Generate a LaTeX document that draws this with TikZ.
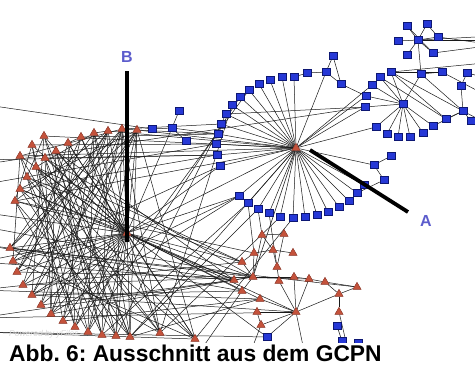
\documentclass[tikz,border=0pt]{standalone}
\usepackage{fontspec}
\setmainfont{Liberation Sans}
\usepackage{xcolor}
\definecolor{sqfill}{rgb}{0.15,0.22,0.84}
\definecolor{sqborder}{rgb}{0.05,0.09,0.45}
\definecolor{trifill}{rgb}{0.77,0.32,0.23}
\definecolor{triborder}{rgb}{0.52,0.18,0.12}
\definecolor{labelblue}{rgb}{0.36,0.36,0.80}
\usepackage{tikz}
\usetikzlibrary{positioning, shapes.geometric, backgrounds}
\frenchspacing

\begin{document}
\begin{tikzpicture}[x=1pt, y=-1pt,
  sq/.style={draw=sqborder, fill=sqfill, line width=0.4pt,
             minimum width=8pt, minimum height=7pt, inner sep=0pt},
  tri/.style={draw=triborder, fill=trifill, line width=0.4pt,
              regular polygon, regular polygon sides=3,
              minimum size=9.5pt, inner sep=0pt},
  link/.style={draw=black!90, line width=0.5pt},
  pointer/.style={draw=black, line width=3.8pt},
  letter/.style={text=labelblue, font=\bfseries\fontsize{16}{16}\selectfont, inner sep=1pt},
]
\useasboundingbox (0,0) rectangle (475,367);

\begin{scope}
\clip (0,0) rectangle (475,342);
% Hub A with its ring
\node[tri] (hA) at (296,148) {};
\node[sq] (a1) at (294,77) {};
\node[sq] (a2) at (282,77) {};
\node[sq] (a3) at (270,80) {};
\node[sq] (a4) at (259,84) {};
\node[sq] (a5) at (249,90) {};
\node[sq] (a6) at (240,97) {};
\node[sq] (a7) at (232,105) {};
\node[sq] (a8) at (226,114) {};
\node[sq] (a9) at (221,124) {};
\node[sq] (a10) at (218,134) {};
\node[sq] (a11) at (216,144) {};
\node[sq] (a12) at (217,155) {};
\node[sq] (a13) at (220,166) {};
\node[sq] (a14) at (239,196) {};
\node[sq] (a15) at (248,203) {};
\node[sq] (a16) at (258,209) {};
\node[sq] (a17) at (269,213) {};
\node[sq] (a18) at (280,217) {};
\node[sq] (a19) at (293,218) {};
\node[sq] (a20) at (305,217) {};
\node[sq] (a21) at (317,215) {};
\node[sq] (a22) at (328,212) {};
\node[sq] (a23) at (339,207) {};
\node[sq] (a24) at (349,201) {};
\node[sq] (a25) at (357,193) {};
\node[sq] (a26) at (364,185) {};

% Small clusters near hub A
\node[sq] (c1) at (307,73) {};
\node[sq] (c2) at (326,72) {};
\node[sq] (c3) at (333,56) {};
\node[sq] (c4) at (341,84) {};
\node[sq] (k1) at (391,156) {};
\node[sq] (k2) at (374,165) {};
\node[sq] (k3) at (384,180) {};

% Squares near B
\node[sq] (s1) at (152,129) {};
\node[sq] (s2) at (172,128) {};
\node[sq] (s3) at (179,111) {};
\node[sq] (s4) at (186,141) {};

% Right hub
\node[sq] (r0) at (403,104) {};
\node[sq] (r1) at (391,72) {};
\node[sq] (r2) at (380,77) {};
\node[sq] (r3) at (372,85) {};
\node[sq] (r4) at (366,96) {};
\node[sq] (r5) at (365,107) {};
\node[sq] (r6) at (376,127) {};
\node[sq] (r7) at (387,134) {};
\node[sq] (r8) at (398,137) {};
\node[sq] (r9) at (410,137) {};
\node[sq] (r10) at (423,133) {};
\node[sq] (r11) at (433,126) {};
\node[sq] (r12) at (446,119) {};
\node[sq] (r13) at (463,111) {};
\node[sq] (r14) at (471,121) {};
\node[sq] (r15) at (421,74) {};
\node[sq] (r16) at (442,72) {};
\node[sq] (r17) at (467,73) {};
\node[sq] (r18) at (461,86) {};

% Upper right star
\node[sq] (u0) at (418,40) {};
\node[sq] (u1) at (407,26) {};
\node[sq] (u2) at (427,24) {};
\node[sq] (u3) at (438,37) {};
\node[sq] (u4) at (398,41) {};
\node[sq] (u5) at (407,55) {};
\node[sq] (u6) at (433,53) {};

% Hub B with its ring
\node[tri] (hB) at (127,233) {};
\node[tri] (l1) at (137,130) {};
\node[tri] (l2) at (122,129) {};
\node[tri] (l3) at (108,131) {};
\node[tri] (l4) at (94,133) {};
\node[tri] (l5) at (81,137) {};
\node[tri] (l6) at (68,143) {};
\node[tri] (l7) at (56,151) {};
\node[tri] (l8) at (44,136) {};
\node[tri] (l9) at (32,145) {};
\node[tri] (l10) at (45,158) {};
\node[tri] (l11) at (36,167) {};
\node[tri] (l12) at (20,156) {};
\node[tri] (l13) at (27,177) {};
\node[tri] (l14) at (20,189) {};
\node[tri] (l15) at (15,201) {};
\node[tri] (l16) at (10,248) {};
\node[tri] (l17) at (13,261) {};
\node[tri] (l18) at (17,272) {};
\node[tri] (l19) at (23,285) {};
\node[tri] (l20) at (32,295) {};
\node[tri] (l21) at (41,305) {};
\node[tri] (l22) at (51,314) {};
\node[tri] (l23) at (63,321) {};
\node[tri] (l24) at (75,327) {};
\node[tri] (l25) at (88,332) {};
\node[tri] (l26) at (102,335) {};
\node[tri] (l27) at (116,336) {};
\node[tri] (l28) at (130,337) {};
\node[tri] (l29) at (160,333) {};
\node[tri] (l30) at (195,339) {};

% Lower triangle group
\node[tri] (t1) at (262,235) {};
\node[tri] (t2) at (284,234) {};
\node[tri] (t3) at (273,250) {};
\node[tri] (t4) at (254,253) {};
\node[tri] (t5) at (293,253) {};
\node[tri] (t6) at (242,262) {};
\node[tri] (t7) at (277,267) {};
\node[tri] (t8) at (253,277) {};
\node[tri] (t9) at (234,280) {};
\node[tri] (t10) at (279,281) {};
\node[tri] (t11) at (294,277) {};
\node[tri] (t12) at (309,279) {};
\node[tri] (t13) at (325,282) {};
\node[tri] (t14) at (357,287) {};
\node[tri] (t15) at (242,291) {};
\node[tri] (t16) at (260,299) {};
\node[tri] (t17) at (339,294) {};
\node[tri] (t18) at (257,312) {};
\node[tri] (t19) at (296,312) {};
\node[tri] (t20) at (339,312) {};
\node[tri] (t21) at (261,325) {};
\node[sq] (q1) at (337,326) {};
\node[sq] (q2) at (267,337) {};
\node[sq] (q3) at (342,341) {};
\node[sq] (q4) at (358,343) {};
\end{scope}

% Ends of links leaving the cut
\coordinate (w1) at (-20,104);
\coordinate (w2) at (-20,165);
\coordinate (w3) at (-20,160);
\coordinate (w4) at (-20,185);
\coordinate (w5) at (-20,212);
\coordinate (w6) at (-20,226);
\coordinate (w7) at (-20,244);
\coordinate (w8) at (-20,262);
\coordinate (w9) at (-20,290);
\coordinate (w10) at (-20,318);
\coordinate (w11) at (-20,332);
\coordinate (e1) at (495,36);
\coordinate (e2) at (495,40);
\coordinate (e3) at (495,45);
\coordinate (e4) at (495,62);
\coordinate (e5) at (495,100);
\coordinate (e6) at (495,80);
\coordinate (e7) at (495,118);
\coordinate (e8) at (495,128);
\coordinate (d1) at (240,380);
\coordinate (d2) at (310,380);
\coordinate (d3) at (355,380);
\coordinate (d4) at (180,380);

\begin{scope}[on background layer]
\clip (0,0) rectangle (475,342);
% fans of the two hubs
\foreach \i in {1,...,26} \draw[link] (hA) -- (a\i);
\foreach \i in {1,...,30} \draw[link] (hB) -- (l\i);
\foreach \i in {1,...,11} \draw[link] (r0) -- (r\i);
\foreach \i in {1,...,6} \draw[link] (u0) -- (u\i);
% left mesh
\foreach \p/\q in {l1/l16, l1/l19, l1/l22, l1/l25, l1/l28, l2/l18, l2/l21,
  l2/l24, l2/l27, l3/l17, l3/l20, l3/l26, l4/l23, l4/l28, l5/l21, l5/l29,
  l6/l24, l6/l30, l7/l26, l8/l28, l10/l27, l13/l29, l14/l27, l15/l25,
  l12/l28, l9/l24, l11/l30, l1/l14, l2/l12, l3/l15, l4/l16, l5/l18,
  l6/l19, l7/l22, l8/l20, l9/l23, l10/l25, l13/l26, l16/l29, l17/l30,
  l1/l30, l2/l29, l4/l11, l8/l13, l12/l17, l9/l15, l1/l2, l3/l4, l5/l6,
  l1/l20, l2/l23, l3/l22, l4/l25, l6/l27, l7/l28, l8/l26, l11/l29,
  l14/l30, l15/l28, l10/l22, l12/l24, l2/l16, l3/l18}
  \draw[link] (\p) -- (\q);
% long links
\foreach \p/\q in {hA/l1, hA/l3, hA/l8, hA/l12, hA/l15, hA/hB, hA/t8,
  hA/c2, hA/k2, hA/r3, hA/r5, hA/l28, a9/l2, a10/l5, a11/l9, a12/l14,
  a13/l17, a6/l25, a8/l27, a14/l22, a15/l26, a16/l28, a18/l29, a19/l30,
  a7/l29, a5/l24, a14/l20, a17/t7, a16/t1, a15/t4, hB/a13, hB/a14,
  hB/t6, hB/t8, hB/t9, hB/t15, hB/s2, hB/t16, l1/a10, l14/t9, l16/t8,
  l19/t8, l13/t6, l20/t15, l23/t16, l10/a12, r5/a8, r4/hA, r6/hA,
  r5/w2, c4/r4, a1/c1, s1/w1, s1/s2, s2/s3, s2/s4, s2/a10, a12/w3,
  a11/w4, hB/w5, t8/w6, t9/w7, hB/w8, t6/w9, t8/w10, l30/w11, t9/l21,
  l7/t9, l10/t8, l11/t6, hB/t19, l16/t14, l20/t19, l18/t12, l22/t9,
  hB/q2, l15/t4, w9/t16, w10/t19, w11/q2, w8/t9, w7/t15}
  \draw[link] (\p) -- (\q);
% small clusters
\foreach \p/\q in {c1/c2, c2/c3, c2/c4, c3/c4, k1/k2, k2/k3, k3/a25,
  r15/r16, r15/u0, r1/r16, r1/r13, r1/r12, r15/r13, r17/r18, r18/r13,
  r12/r13, r11/r13, r13/r14, r0/r15, r2/r12, u1/u6, u2/u3, r1/e4,
  r16/e5, r17/e6, r14/e7, r13/e8, u0/e1, u0/e2, u3/e3, u6/e3}
  \draw[link] (\p) -- (\q);
% lower group
\foreach \p/\q in {t1/t2, t1/t3, t2/t7, t3/t4, t3/t5, t3/t7, t4/t6,
  t6/t8, t4/t8, t8/t9, t8/t15, t7/t10, t10/t19, t11/t12, t11/t19,
  t12/t13, t13/t17, t13/t14, t14/t17, t17/t20, t17/t19, t19/t16,
  t19/t18, t19/t21, t21/t18, t19/q2, q1/q3, t8/t11, t16/l28, t19/d2,
  t20/d3, t21/d1, t15/d4, t12/t19, t1/t8}
  \draw[link] (\p) -- (\q);
\end{scope}

% Pointers and letters
\node[letter] (labB) at (127,57) {B};
\node[letter] (labA) at (426,221) {A};
\coordinate (pB) at (127,71);
\coordinate (pA) at (408,212);
\coordinate (tipA) at (310,150);
\draw[pointer] (pB) -- ([yshift=-9pt]hB.center);
\draw[pointer] (pA) -- (tipA);

% Caption and watermark
\node[anchor=base west, text=gray!30, font=\itshape\fontsize{8.5}{9}\selectfont,
      inner sep=0pt] (wmark) at (9,336) {Powered by yFiles};
\node[anchor=base west, inner sep=0pt,
      font=\bfseries\fontsize{22.8}{23}\selectfont] (cap) at (9,361)
      {Abb. 6: Ausschnitt aus dem GCPN};
\end{tikzpicture}
\end{document}
